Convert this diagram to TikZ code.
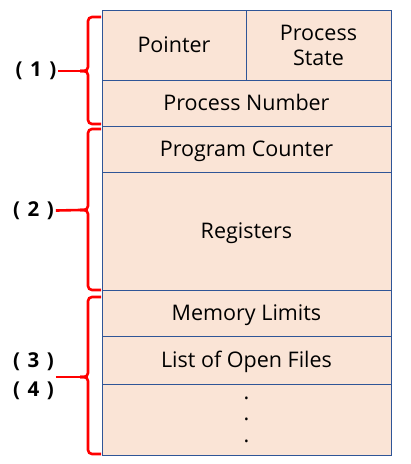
\documentclass[tikz,border=0pt]{standalone}
\usepackage{fontspec}
\setmainfont{Open Sans}
\newfontfamily\tagfont[WordSpace=1.4]{Open Sans}
\definecolor{cellfill}{RGB}{250,228,214}
\definecolor{cellline}{RGB}{47,85,151}

\begin{document}
\begin{tikzpicture}[x=1pt,y=-1pt,
  cell/.style={rectangle,draw=cellline,fill=cellfill,line width=0.9pt,inner sep=0pt,
    minimum width=289pt,minimum height=46pt,align=center,text height=15.4pt,text depth=0pt,
    font=\fontsize{21.5}{25}\selectfont},
  brace/.style={draw=red,line width=2.6pt,rounded corners=4pt},
  tag/.style={inner sep=2pt,align=center,font=\tagfont\bfseries\fontsize{20.5}{29}\selectfont}]
  \useasboundingbox (0,0) rectangle (411,464);
  \node[cell,minimum width=144pt,minimum height=70pt] (ptr) at (174,45) {Pointer};
  \node[cell,minimum width=145pt,minimum height=70pt,text height=,text depth=] (state) at (318.5,45) {Process\\State};
  \node[cell] (pnum) at (246.5,103) {Process Number};
  \node[cell] (pc) at (246.5,149) {Program Counter};
  \node[cell,minimum height=118pt] (regs) at (246.5,231) {Registers};
  \node[cell] (mem) at (246.5,313) {Memory Limits};
  \node[cell,minimum height=48pt] (files) at (246.5,360) {List of Open Files};
  \node[cell,minimum height=71pt,text height=,text depth=,font=\fontsize{21.5}{21.5}\selectfont] (more) at (246.5,419.5) {.\\.\\.};
  \node[tag] (t1) at (36,71) {( 1 )};
  \node[tag] (t2) at (33.5,211) {( 2 )};
  \node[tag] (t34) at (33.5,376.5) {( 3 )\\( 4 )};
  \coordinate (b1) at (80,71);
  \coordinate (b2) at (80,210);
  \coordinate (b3) at (80,377);
  \draw[brace] (101,17) -- (88,17) -- (88,71) -- (b1);
  \draw[brace] (101,124) -- (88,124) -- (88,71) -- (b1);
  \draw[brace] (101,129) -- (88,129) -- (88,210) -- (b2);
  \draw[brace] (101,290) -- (88,290) -- (88,210) -- (b2);
  \draw[brace] (101,297) -- (88,297) -- (88,377) -- (b3);
  \draw[brace] (101,454) -- (88,454) -- (88,377) -- (b3);
  \draw[brace] (t1) -- (b1);
  \draw[brace] (t2) -- (b2);
  \draw[brace] (t34.east |- b3) -- (b3);
\end{tikzpicture}
\end{document}
